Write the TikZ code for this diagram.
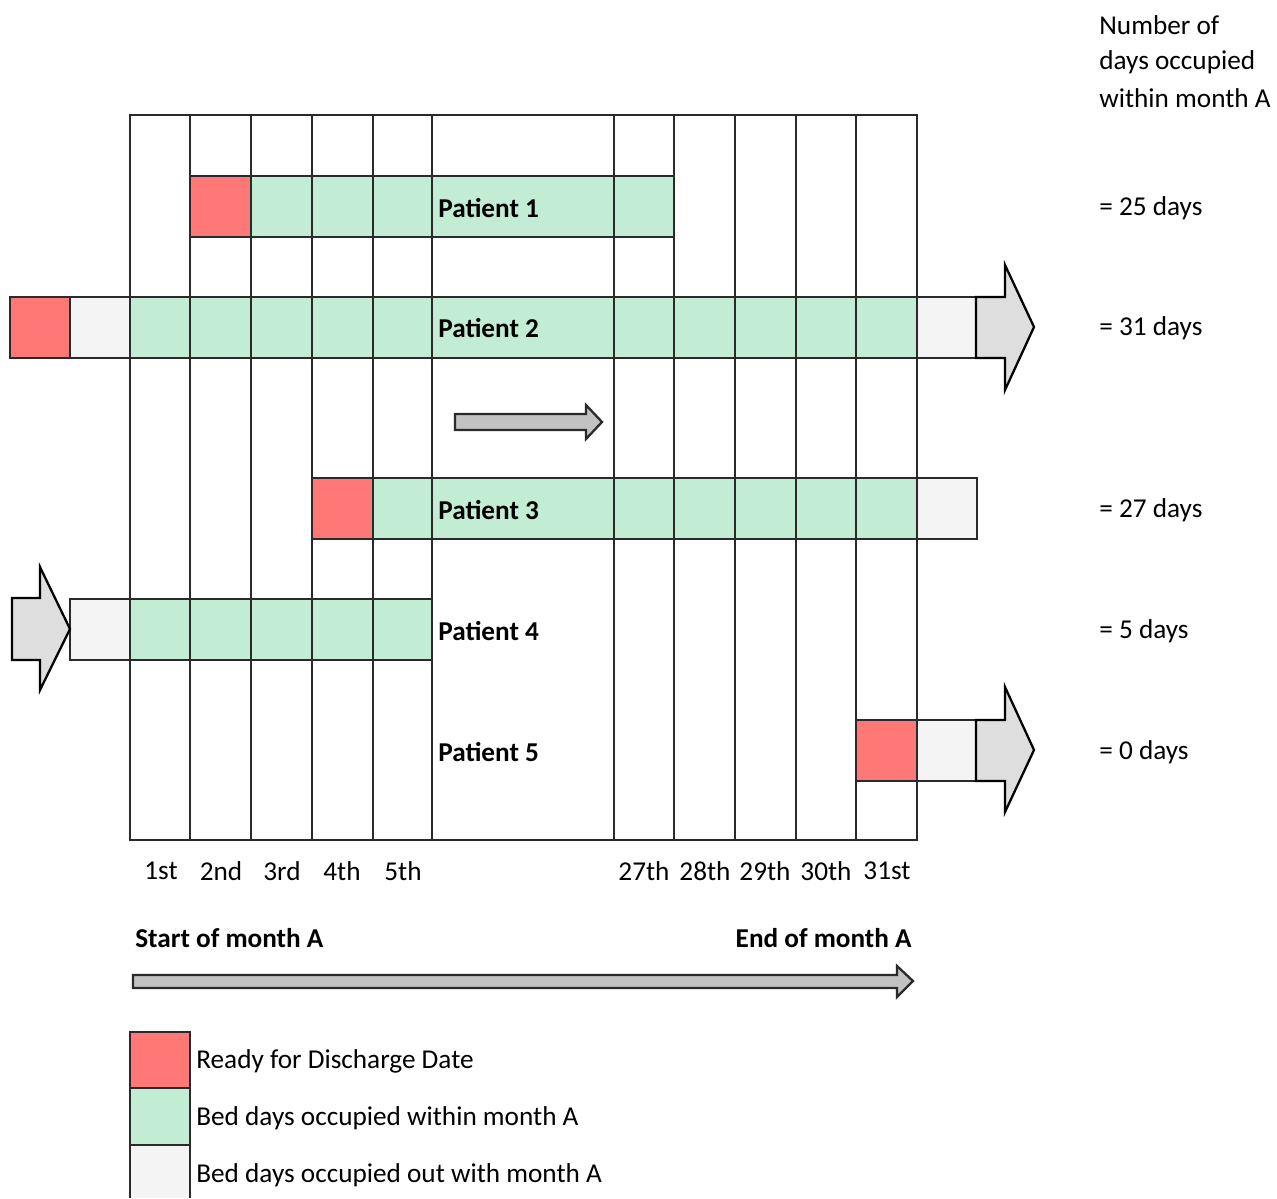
\documentclass[tikz,border=0pt]{standalone}
\usepackage{fontspec}
\setmainfont{Carlito}
\definecolor{rdd}{HTML}{FF7878}
\definecolor{grn}{HTML}{C2ECD4}
\definecolor{wht}{HTML}{F4F4F4}
\definecolor{arw}{HTML}{DEDEDE}
\definecolor{sarw}{HTML}{C2C2C2}
\definecolor{ln}{HTML}{2A2A2A}
\begin{document}
\begin{tikzpicture}[x=0.02cm,y=-0.02cm,
  txt/.style={font=\fontsize{15.5pt}{19pt}\selectfont, inner sep=0pt, text=black},
  btxt/.style={txt, font=\fontsize{15.5pt}{19pt}\selectfont\bfseries},
  gridline/.style={draw=ln, line width=1pt},
  barline/.style={draw=ln, line width=1.1pt},
  bigarrow/.style={draw=black, line width=1.3pt, fill=arw, line join=miter},
  smallarrow/.style={draw=ln, line width=1.3pt, fill=sarw, line join=miter}]
\useasboundingbox (0,0) rectangle (1277,1198);
% ---- bar fills
% Patient 1
\fill[rdd] (190,176) rectangle (251,237);
\fill[grn] (251,176) rectangle (674,237);
% Patient 2
\fill[rdd] (10,297) rectangle (70,358);
\fill[wht] (70,297) rectangle (130,358);
\fill[grn] (130,297) rectangle (917,358);
\fill[wht] (917,297) rectangle (976,358);
% Patient 3
\fill[rdd] (312,478) rectangle (373,539);
\fill[grn] (373,478) rectangle (917,539);
\fill[wht] (917,478) rectangle (977,539);
% Patient 4
\fill[wht] (70,599) rectangle (130,660);
\fill[grn] (130,599) rectangle (432,660);
% Patient 5
\fill[rdd] (856,720) rectangle (917,781);
\fill[wht] (917,720) rectangle (976,781);
% ---- grid
\draw[gridline] (130,115) rectangle (917,840);
\foreach \x in {190,251,312,373,432,614,674,735,796,856}
  \draw[gridline] (\x,115) -- (\x,840);
% ---- bar outlines
\draw[barline] (190,176) rectangle (674,237);
\draw[barline] (10,297) rectangle (976,358);
\draw[barline] (70,297) -- (70,358);
\draw[barline] (312,478) rectangle (977,539);
\draw[barline] (917,478) -- (917,539);
\draw[barline] (70,599) rectangle (432,660);
\draw[barline] (856,720) rectangle (976,781);
\draw[barline] (917,720) -- (917,781);
% ---- big arrows
\draw[bigarrow] (976,297) -- (1005,297) -- (1005,265) -- (1034,327) -- (1005,390) -- (1005,358) -- (976,358) -- cycle;
\draw[bigarrow] (976,720) -- (1005,720) -- (1005,687) -- (1034,750) -- (1005,812) -- (1005,781) -- (976,781) -- cycle;
\draw[bigarrow] (12,598) -- (40,598) -- (40,567) -- (70,629) -- (40,690) -- (40,660) -- (12,660) -- cycle;
% ---- small arrows
\draw[smallarrow] (455,414) -- (586,414) -- (586,405) -- (602,422) -- (586,439) -- (586,430) -- (455,430) -- cycle;
\draw[smallarrow] (133,975) -- (897,975) -- (897,966) -- (913,981) -- (897,997) -- (897,988) -- (133,988) -- cycle;
% ---- patient labels
\node[btxt, anchor=west] (p1) at (438,208) {Patient 1};
\node[btxt, anchor=west] (p2) at (438,328) {Patient 2};
\node[btxt, anchor=west] (p3) at (438,510) {Patient 3};
\node[btxt, anchor=west] (p4) at (438,631) {Patient 4};
\node[btxt, anchor=west] (p5) at (438,752) {Patient 5};
% ---- day labels
\node[txt] (d1) at (161,871) {1st};
\node[txt] (d2) at (221,871) {2nd};
\node[txt] (d3) at (282,871) {3rd};
\node[txt] (d4) at (342,871) {4th};
\node[txt] (d5) at (403,871) {5th};
\node[txt] (d27) at (644,871) {27th};
\node[txt] (d28) at (705,871) {28th};
\node[txt] (d29) at (765,871) {29th};
\node[txt] (d30) at (826,871) {30th};
\node[txt] (d31) at (887,871) {31st};
% ---- month labels
\node[btxt, anchor=west] (som) at (135,938) {Start of month A};
\node[btxt, anchor=east] (eom) at (912,938) {End of month A};
% ---- right column
\node[txt, anchor=west] (h1) at (1099,25) {Number of};
\node[txt, anchor=west] (h2) at (1099,62) {days occupied};
\node[txt, anchor=west] (h3) at (1099,98) {within month A};
\node[txt, anchor=west] (r1) at (1099,208) {= 25 days};
\node[txt, anchor=west] (r2) at (1099,328) {= 31 days};
\node[txt, anchor=west] (r3) at (1099,510) {= 27 days};
\node[txt, anchor=west] (r4) at (1099,631) {= 5 days};
\node[txt, anchor=west] (r5) at (1099,752) {= 0 days};
% ---- legend
\filldraw[fill=rdd, barline] (130,1032) rectangle (190,1088);
\filldraw[fill=grn, barline] (130,1088) rectangle (190,1145);
\fill[wht] (130,1145) rectangle (190,1198);
\draw[barline] (130,1145) -- (190,1145);
\draw[barline] (130,1145) -- (130,1198);
\draw[barline] (190,1145) -- (190,1198);
\node[txt, anchor=west] (l1) at (196,1061) {Ready for Discharge Date};
\node[txt, anchor=west] (l2) at (196,1118) {Bed days occupied within month A};
\node[txt, anchor=west] (l3) at (196,1175) {Bed days occupied out with month A};
\end{tikzpicture}
\end{document}
